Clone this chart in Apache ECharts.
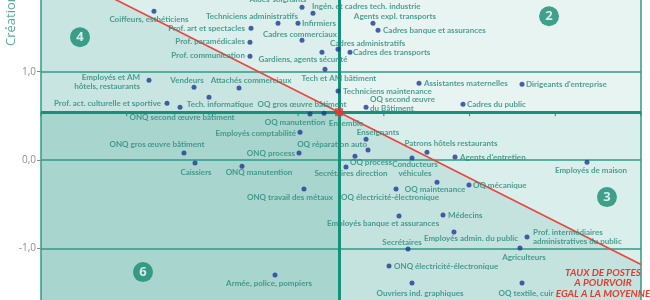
<!DOCTYPE html>
<html><head><meta charset="utf-8">
<script src="https://cdn.jsdelivr.net/npm/echarts@6/dist/echarts.min.js"></script>
<style>
html,body{margin:0;padding:0;background:#fff;width:650px;height:300px;overflow:hidden;position:relative}
#c{position:absolute;left:0;top:-61px;width:650px;height:398px}
</style>
</head><body><div id="c"></div>
<script>
// ---- data ----
const names = [
 'Aides-soignants','Ingén. et cadres tech. industrie','Techniciens administratifs','Infirmiers',
 'Agents expl. transports','Cadres banque et assurances','Prof. art et spectacles','Prof. paramédicales',
 'Prof. communication','Cadres commerciaux','Cadres administratifs','Gardiens, agents sécurité',
 'Cadres des transports','Tech et AM bâtiment','Techniciens maintenance','OQ second œuvre\ndu Bâtiment',
 'Assistantes maternelles',"Dirigeants d'entreprise",'Cadres du public','Employés et AM\nhôtels, restaurants',
 'Vendeurs','Attachés commerciaux','Prof. act. culturelle et sportive','Tech. informatique',
 'ONQ second œuvre bâtiment','OQ gros œuvre bâtiment','OQ manutention','Employés comptabilité',
 'Enseignants','OQ réparation auto','ONQ process','OQ process',
 'Secrétaires direction','ONQ manutention','ONQ gros œuvre bâtiment','Caissiers',
 'ONQ travail des métaux','OQ électricité-électronique','Patrons hôtels restaurants',"Agents d'entretien",
 'Conducteurs\nvéhicules','OQ maintenance','OQ mécanique','Employés de maison',
 'Employés banque et assurances','Médecins','Secrétaires','Employés admin. du public',
 'Prof. intermédiaires\nadministratives du public','Agriculteurs','ONQ électricité-électronique','Ouvriers ind. graphiques',
 'OQ textile, cuir','Armée, police, pompiers','Coiffeurs, esthéticiens'
];
const xValues = [
 3.045,3.173,2.765,2.998, 3.873,3.932,2.450,2.438, 2.438,3.045,3.465,3.278,
 3.605,3.313,3.465,3.792, 4.410,5.612,4.923,1.260, 1.785,2.310,1.470,1.960,
 1.622,3.302,3.138,3.022, 3.792,3.815,3.010,3.663, 3.558,2.345,1.668,1.797,
 3.068,4.142,4.503,4.830, 4.328,4.620,4.993,6.370, 4.177,4.690,4.282,4.818,
 5.670,5.588,4.060,4.328, 5.612,2.730,1.318
];
const yValues = [
 1.729,1.661,1.548,1.548, 1.548,1.469,1.492,1.333, 1.175,1.356,1.254,1.220,
 1.220,1.028,0.780,0.599, 0.870,0.859,0.633,0.904, 0.825,0.814,0.644,0.712,
 0.599,0.531,0.520,0.316, 0.237,0.113,0.079,0.045, -0.079,-0.068,0.079,-0.034,
 -0.328,-0.328,0.090,0.034, 0.023,-0.249,-0.282,-0.023, -0.633,-0.621,-1.006,-0.814,
 -0.870,-0.994,-1.198,-1.390, -1.390,-1.299,1.684
];
const meanName = 'Ensemble';
const meanX = 3.477;
const meanY = 0.542;
const diagLine = [[0, 2.24], [7, -1.18]];   // taux de postes à pourvoir égal à la moyenne
const yTicks = [-1, 0, 1];
const xTicks = [0, 1, 2, 3, 4, 5, 6, 7];
const regionIds = ['4', '2', '3', '6'];
const regionX = [0.455, 5.927, 6.603, 1.190];
const regionY = [1.390, 1.627, -0.418, -1.266];

// ---- label placement (style, not data): [align, dx, dy] ----
const labelPlace = [
 ['c',-24,-8],['l',-1,-7],['c',-26,-7],['l',4,0], ['c',22,-7],['l',5,0],['r',-6,0],['r',-5,-1],
 ['r',-5,-1],['c',-2,-6],['l',-8,-6],['c',-19,7], ['l',3,0],['c',14,9],['l',5,0],['l',4,-3],
 ['l',5,0],['l',4,0],['l',4,0],['r',-9,2], ['c',-7,-7],['c',12,-8],['r',-6,0],['c',11,7],
 ['c',2,10],['c',-22,-9],['c',-15,8],['r',-4,1], ['c',12,-7],['r',-1,-6],['r',-4,0],['c',16,6],
 ['c',5,6],['c',17,6],['c',-27,-9],['c',1,9], ['c',-14,8],['c',-6,8],['c',24,-9],['l',5,0],
 ['c',3,11],['c',-2,7],['l',4,0],['c',4,8], ['c',-16,7],['l',5,0],['c',-6,-7],['c',17,6],
 ['l',6,0],['c',4,9],['l',5,0],['c',8,10], ['c',4,10],['c',-6,8],['c',-5,8]
];

const X_MIN = 0, X_MAX = 7, Y_MIN = -2, Y_MAX = 2.5;
const SHIFT = 61; // chart canvas starts above the visible window
const GRID = {left: 41, right: 9, top: 0, bottom: 0};
const TEAL = '#2f9a88', LABEL = '#28897a', DOT = '#1d3b92';
const FONT = 'Lato, "Liberation Sans", sans-serif';

// background regions (data-space polygons)
const dA = diagLine[0], dB = diagLine[1];
const bgPolys = [
 [[X_MIN, meanY],[X_MIN, dA[1]],[meanX, meanY]],
 [[X_MIN, dA[1]],[X_MIN, Y_MAX],[meanX, Y_MAX],[meanX, meanY]],
 [[meanX, meanY],[meanX, Y_MAX],[X_MAX, Y_MAX],[X_MAX, meanY]],
 [[meanX, meanY],[X_MAX, meanY],[X_MAX, dB[1]]],
 [[meanX, meanY],[X_MAX, dB[1]],[X_MAX, Y_MIN],[meanX, Y_MIN]],
 [[X_MIN, Y_MIN],[X_MIN, meanY],[meanX, meanY],[meanX, Y_MIN]]
];
const bgColors = ['#c9e5e1','#ddefec','#e7f4f2','#daeeeb','#c4e2de','#a9d5cf'];

const pts = names.map((n, i) => {
  const p = labelPlace[i];
  return {
    name: n, value: [xValues[i], yValues[i]],
    label: {
      show: true, position: 'inside', formatter: n,
      align: p[0] === 'l' ? 'left' : (p[0] === 'r' ? 'right' : 'center'),
      verticalAlign: 'middle', offset: [p[1], p[2]],
      color: LABEL, fontFamily: FONT, fontSize: 8, fontWeight: 'bold',
      lineHeight: 9, textBorderWidth: 0
    }
  };
});

const chart = echarts.init(document.getElementById('c'), null, {renderer: 'canvas'});
chart.setOption({
  animation: false,
  backgroundColor: '#ffffff',
  grid: GRID,
  xAxis: {
    type: 'value', min: X_MIN, max: X_MAX, interval: 1,
    axisLine: {show: false}, axisLabel: {show: false}, splitLine: {show: false}, axisTick: {show: false}
  },
  yAxis: [{
    type: 'value', min: Y_MIN, max: Y_MAX, interval: 1, z: 3,
    axisLine: {show: true, lineStyle: {color: TEAL, width: 1.5}},
    axisTick: {show: true, length: 4, lineStyle: {color: '#888', width: 1}},
    axisLabel: {
      color: '#8c8c8c', fontSize: 10, fontFamily: 'Open Sans, sans-serif', margin: 5,
      formatter: v => yTicks.indexOf(v) >= 0 ? v.toFixed(1).replace('.', ',') : ''
    },
    splitLine: {show: true, lineStyle: {color: TEAL, width: 1.5}}
  }, {
    type: 'value', min: Y_MIN, max: Y_MAX, position: 'right', z: 3,
    axisLine: {show: true, lineStyle: {color: TEAL, width: 1.5}},
    axisTick: {show: false}, axisLabel: {show: false}, splitLine: {show: false}
  }],
  graphic: [
    {type: 'text', x: 11, y: 46 + SHIFT, rotation: Math.PI / 2, z: 10,
     style: {text: "Créations nettes d'emplois", fill: '#5aab9e', fontSize: 13,
             fontFamily: 'Open Sans, sans-serif', align: 'left', verticalAlign: 'middle'}},
    {type: 'text', x: 603, y: 283 + SHIFT, z: 10,
     style: {text: 'TAUX DE POSTES\nA POURVOIR\nEGAL A LA MOYENNE', fill: '#e63a2e',
             fontSize: 10, fontStyle: 'italic', fontWeight: 'bold', fontFamily: FONT,
             lineHeight: 10.5, align: 'center', verticalAlign: 'middle'}}
  ],
  series: [
    {
      type: 'custom', z: 1, silent: true, clip: false,
      data: bgPolys.map(p => p[0]),
      renderItem: (params, api) => ({
        type: 'polygon',
        shape: {points: bgPolys[params.dataIndex].map(p => api.coord(p))},
        style: {fill: bgColors[params.dataIndex], stroke: null}
      })
    },
    {
      type: 'line', z: 4, silent: true, data: [],
      markLine: {
        silent: true, symbol: 'none', label: {show: false},
        lineStyle: {color: '#16907a', width: 3, type: 'solid'},
        data: [{xAxis: meanX}, {yAxis: meanY}]
      }
    },
    {
      // x-axis ticks drawn on the mean line
      type: 'custom', z: 4, silent: true, clip: false,
      data: xTicks.map(t => [t, meanY]),
      renderItem: (params, api) => {
        const c = api.coord([api.value(0), api.value(1)]);
        return {type: 'line', shape: {x1: c[0], y1: c[1], x2: c[0], y2: c[1] + 4},
                style: {stroke: '#16907a', lineWidth: 1}};
      }
    },
    {
      type: 'line', z: 5, silent: true, data: diagLine, symbol: 'none',
      lineStyle: {color: '#e8453c', width: 1.5}
    },
    {
      type: 'scatter', z: 6, symbol: 'circle', symbolSize: 5,
      itemStyle: {color: DOT}, data: pts
    },
    {
      type: 'scatter', z: 7, symbol: 'rect', symbolSize: 8,
      itemStyle: {color: '#e8352e'},
      data: [{name: meanName, value: [meanX, meanY],
        label: {show: true, position: 'inside', formatter: meanName, align: 'center',
          verticalAlign: 'middle', offset: [7, 11], color: LABEL, fontFamily: FONT,
          fontSize: 8, fontWeight: 'bold', textBorderWidth: 0}}]
    },
    {
      type: 'scatter', z: 7, symbol: 'circle', symbolSize: 20,
      itemStyle: {color: '#178b72'},
      data: regionIds.map((r, i) => ({name: r, value: [regionX[i], regionY[i]]})),
      label: {show: true, position: 'inside', formatter: p => p.name, color: '#fff',
        fontSize: 13, fontWeight: 'bold', fontFamily: 'Open Sans, sans-serif', textBorderWidth: 0}
    }
  ]
});
</script></body></html>
